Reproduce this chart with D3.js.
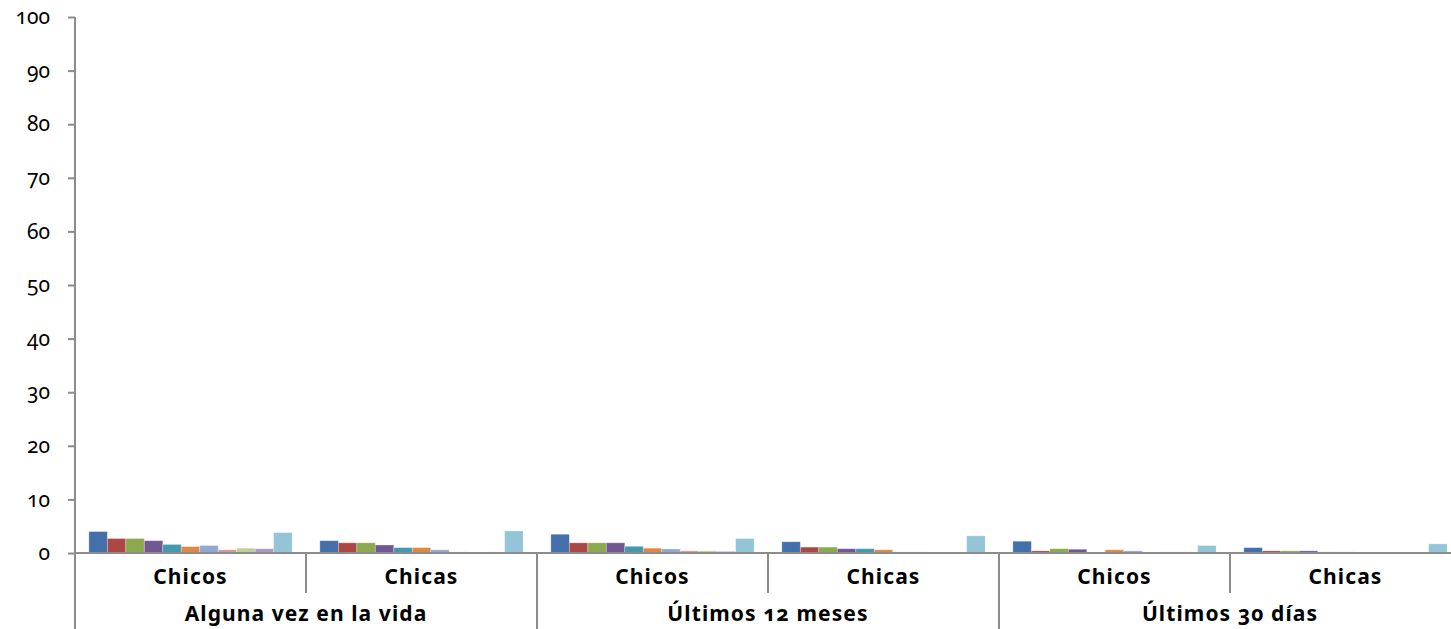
<!DOCTYPE html>
<html><head><meta charset="utf-8">
<script src="https://cdn.jsdelivr.net/npm/d3@7"></script>
<style>
html,body{margin:0;padding:0;background:#fff;overflow:hidden;}
svg{display:block;}
text{font-family:"Noto Sans","Open Sans",sans-serif;fill:#000;}
.num{font-variant-numeric:oldstyle-nums;font-feature-settings:"onum" 1;}
</style></head>
<body>
<svg id="chart" width="1451" height="629"></svg>
<script>
const groups = ["Alguna vez en la vida", "Últimos 12 meses", "Últimos 30 días"];
const subcats = ["Chicos", "Chicas"];
const seriesColors = ["#4470a9","#ab4745","#8ba94f","#725791","#4299b0","#de8843","#91a8d3","#d29896","#bccf99","#aa9bc3","#93c4d7"];
// 11 series, values for each of the 6 group x subcategory slots
const s1  = [4.0, 2.3, 3.5, 2.1, 2.2, 1.0];
const s2  = [2.7, 1.9, 1.9, 1.1, 0.4, 0.4];
const s3  = [2.7, 1.9, 1.9, 1.1, 0.8, 0.4];
const s4  = [2.3, 1.5, 1.9, 0.8, 0.7, 0.4];
const s5  = [1.6, 1.0, 1.25, 0.8, 0.0, 0.2];
const s6  = [1.2, 1.0, 0.9, 0.6, 0.6, 0.2];
const s7  = [1.4, 0.6, 0.75, 0.2, 0.4, 0.0];
const s8  = [0.6, 0.2, 0.4, 0.2, 0.0, 0.0];
const s9  = [0.9, 0.0, 0.4, 0.0, 0.2, 0.0];
const s10 = [0.8, 0.2, 0.3, 0.0, 0.2, 0.0];
const s11 = [3.8, 4.1, 2.7, 3.2, 1.4, 1.7];
const series = [s1,s2,s3,s4,s5,s6,s7,s8,s9,s10,s11];
const yTicks = [0,10,20,30,40,50,60,70,80,90,100];

const svg = d3.select("#chart");
const x0 = 75, catW = 231;
const cats = [];
groups.forEach((g,gi)=>subcats.forEach((s,si)=>cats.push({g:gi,s:si,label:s,key:gi+"-"+si})));
const x = d3.scaleBand().domain(cats.map(c=>c.key)).range([x0, x0+catW*cats.length]).paddingInner(0).paddingOuter(0);
const xs = d3.scaleBand().domain(d3.range(series.length)).range([0, x.bandwidth()]).paddingInner(0).paddingOuter(0.75);
const y = d3.scaleLinear().domain([0,100]).range([553,17]);

// bars
series.forEach((vals,si)=>{
  svg.append("g").selectAll("rect").data(vals).join("rect")
    .attr("x",(d,i)=>x(cats[i].key)+xs(si))
    .attr("width",xs.bandwidth())
    .attr("y",d=>y(d))
    .attr("height",d=>y(0)-y(d))
    .attr("fill",seriesColors[si])
    .attr("stroke","rgba(255,255,255,0.35)")
    .attr("stroke-width",0.8);
});

// y axis
const yAxis = d3.axisLeft(y).tickValues(yTicks).tickSize(7).tickPadding(18).tickSizeOuter(0);
const ya = svg.append("g").attr("transform",`translate(${x0},0)`).call(yAxis);
ya.select(".domain").remove();
ya.selectAll(".tick line").attr("stroke","#8c8c8c").attr("stroke-width",2);
ya.selectAll(".tick text").attr("class","num").attr("font-size",21).attr("fill","#000")
  .attr("font-family","'Noto Sans','Open Sans',sans-serif");
svg.append("line").attr("x1",x0).attr("x2",x0).attr("y1",y(100)).attr("y2",629)
  .attr("stroke","#8c8c8c").attr("stroke-width",2);

// x axis baseline
svg.append("line").attr("x1",x0).attr("x2",x0+catW*cats.length).attr("y1",y(0)).attr("y2",y(0))
  .attr("stroke","#8c8c8c").attr("stroke-width",2);

// separators
cats.forEach((c,i)=>{
  if(i===0) return;
  const xx = x(c.key);
  const long = c.s===0;
  svg.append("line").attr("x1",xx).attr("x2",xx).attr("y1",y(0)).attr("y2",long?629:593)
    .attr("stroke","#8c8c8c").attr("stroke-width",2);
});

// subcategory labels
svg.append("g").selectAll("text").data(cats).join("text")
  .attr("x",c=>x(c.key)+x.bandwidth()/2).attr("y",584)
  .attr("text-anchor","middle").attr("font-size",21).attr("font-weight","bold")
  .attr("letter-spacing",1.1)
  .text(c=>c.label);

// group labels
svg.append("g").selectAll("text").data(groups).join("text")
  .attr("class","num")
  .attr("x",(g,gi)=>x0+catW*2*gi+catW)
  .attr("y",621)
  .attr("text-anchor","middle").attr("font-size",21).attr("font-weight","bold")
  .attr("letter-spacing",1.1)
  .text(g=>g);
</script>
</body></html>
